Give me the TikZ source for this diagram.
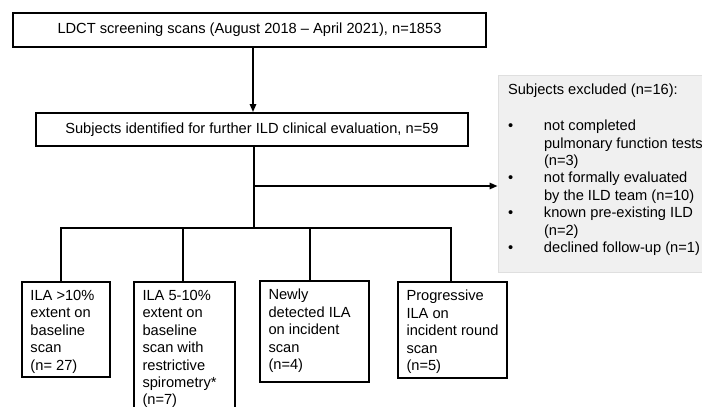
\documentclass[tikz,border=0pt]{standalone}
\usepackage{fontspec}
\setmainfont{Liberation Sans}
\usetikzlibrary{arrows.meta}
\begin{document}
\begin{tikzpicture}[x=1pt,y=-1pt,
  txt/.style={font=\fontsize{14.65pt}{17.4pt}\selectfont},
  mainbox/.style={txt,draw,line width=2pt,inner sep=0pt,align=center},
  leaf/.style={txt,draw,line width=2pt,anchor=north west,inner xsep=8.5pt,inner ysep=8.3pt},
  greybox/.style={txt,draw=gray!25,fill=gray!12,line width=1pt,anchor=north west,inner xsep=10pt,inner ysep=9pt},
  conn/.style={line width=1.5pt},
  arr/.style={conn,-{Triangle[length=8pt,width=6.5pt]}}]
\useasboundingbox (0,0) rectangle (702,407);
\node[mainbox,minimum width=473pt,minimum height=34pt] (top) at (249.5,30) {LDCT screening scans (August 2018 \textendash{} April 2021), n=1853};
\node[mainbox,minimum width=432pt,minimum height=33pt] (main) at (252,129.5) {Subjects identified for further ILD clinical evaluation, n=59};
\node[greybox] (excl) at (497.5,74.5) {\begin{minipage}[c][179pt][t]{205pt}
Subjects excluded (n=16):\\[18.6pt]
\makebox[36pt][l]{\textbullet}not completed\\
\hspace*{36pt}pulmonary function tests\\
\hspace*{36pt}(n=3)\\
\makebox[36pt][l]{\textbullet}not formally evaluated\\
\hspace*{36pt}by the ILD team (n=10)\\
\makebox[36pt][l]{\textbullet}known pre-existing ILD\\
\hspace*{36pt}(n=2)\\
\makebox[36pt][l]{\textbullet}declined follow-up (n=1)
\end{minipage}};
\node[leaf] (b1) at (21,281) {\begin{minipage}[c][78.4pt][t]{71pt}\raggedright ILA >10\%\\extent on\\baseline\\scan\\(n= 27)\end{minipage}};
\node[leaf] (b2) at (133,281) {\begin{minipage}[c][116.4pt][t]{84pt}\raggedright ILA 5-10\%\\extent on\\baseline\\scan with\\restrictive\\spirometry*\\(n=7)\end{minipage}};
\node[leaf] (b3) at (259,280) {\begin{minipage}[c][84.4pt][t]{92pt}\raggedright Newly\\detected ILA\\on incident\\scan\\(n=4)\end{minipage}};
\node[leaf] (b4) at (397,281) {\begin{minipage}[c][79.4pt][t]{92pt}\raggedright Progressive\\ILA on\\incident~round\\scan\\(n=5)\end{minipage}};
\coordinate (ax) at (253,0);
\coordinate (split) at (254,228);
\coordinate (branch) at (254,186);
\coordinate (d1) at (61,228);
\coordinate (d2) at (183,228);
\coordinate (d3) at (310,228);
\coordinate (d4) at (451,228);
\draw[arr] (top.south -| ax) -- (main.north -| ax);
\draw[conn] (main.south -| split) -- (split);
\draw[arr] (branch) -- (branch -| excl.west);
\draw[conn] (d1 |- b1.north) -- (d1) -- (d4) -- (d4 |- b4.north);
\draw[conn] (d2) -- (d2 |- b2.north);
\draw[conn] (d3) -- (d3 |- b3.north);
\end{tikzpicture}
\end{document}
